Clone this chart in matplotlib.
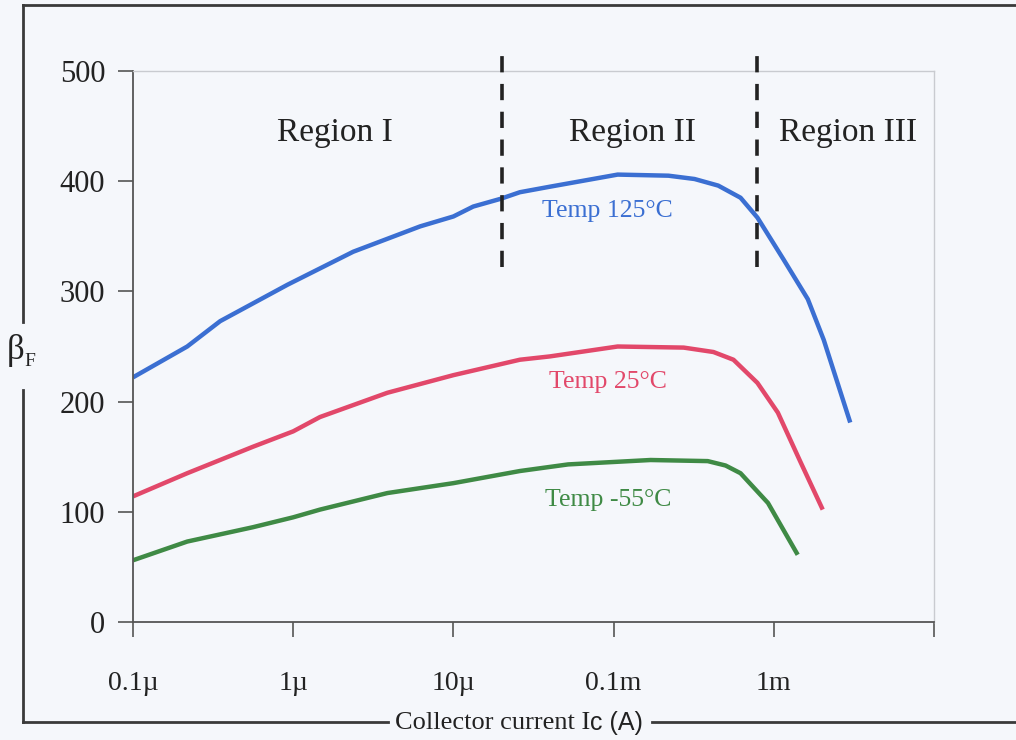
import numpy as np
import matplotlib
matplotlib.use("Agg")
import matplotlib.pyplot as plt
from matplotlib.lines import Line2D

# collector current (A) and forward current gain for each temperature
ic_125 = [1.0e-7, 2.18e-7, 3.5e-7, 9.2e-7, 2.37e-6, 6.2e-6, 1.0e-5, 1.33e-5, 1.97e-5,
          2.6e-5, 4.0e-5, 1.06e-4, 2.2e-4, 3.2e-4, 4.5e-4, 6.2e-4, 7.9e-4, 1.15e-3,
          1.63e-3, 2.05e-3, 3.0e-3]
beta_125 = [222, 250, 273, 306, 336, 359, 368, 377, 384,
            390, 395, 406, 405, 402, 396, 385, 367, 329,
            293, 256, 181]

ic_25 = [1.0e-7, 2.18e-7, 5.6e-7, 1.0e-6, 1.47e-6, 3.87e-6, 1.0e-5, 2.6e-5, 4.0e-5,
         1.06e-4, 2.74e-4, 4.2e-4, 5.6e-4, 7.9e-4, 1.06e-3, 1.47e-3, 2.02e-3]
beta_25 = [114, 135, 159, 173, 186, 208, 224, 238, 241,
           250, 249, 245, 238, 217, 190, 145, 102]

ic_m55 = [1.0e-7, 2.18e-7, 5.6e-7, 1.0e-6, 1.47e-6, 3.87e-6, 1.0e-5, 2.6e-5, 5.2e-5,
          1.7e-4, 3.87e-4, 5.0e-4, 6.2e-4, 9.2e-4, 1.41e-3]
beta_m55 = [56, 73, 86, 95, 102, 117, 126, 137, 143,
            147, 146, 142, 135, 108, 61]

x_ticks = [1e-7, 1e-6, 1e-5, 1e-4, 1e-3, 1e-2]
x_ticklabels = ["0.1\u00b5", "1\u00b5", "10\u00b5", "0.1m", "1m", ""]
y_ticks = [0, 100, 200, 300, 400, 500]

# region boundaries (A) and how far up the dashed markers reach
region_edges = [2.02e-5, 7.8e-4]
edge_span = [322, 520]

bg = "#f5f7fb"
c_blue = "#3b6fd2"
c_red = "#e2486a"
c_green = "#3f8a45"
serif = "Liberation Serif"

plt.rcParams["font.family"] = serif

fig = plt.figure(figsize=(10.16, 7.40), dpi=100, facecolor=bg)
ax = fig.add_axes([133 / 1016, 118 / 740, 801 / 1016, 551 / 740], facecolor=bg)

ax.plot(ic_125, beta_125, color=c_blue, lw=3.2, solid_capstyle="butt",
        solid_joinstyle="round")
ax.plot(ic_25, beta_25, color=c_red, lw=3.2, solid_capstyle="butt",
        solid_joinstyle="round")
ax.plot(ic_m55, beta_m55, color=c_green, lw=3.2, solid_capstyle="butt",
        solid_joinstyle="round")

for xe in region_edges:
    ax.plot([xe, xe], edge_span, color="#222222", lw=2.6, ls=(0, (4.5, 3.2)),
            clip_on=False, zorder=5)

ax.set_xscale("log")
ax.set_xlim(1e-7, 1e-2)
ax.set_ylim(0, 500)
ax.set_xticks(x_ticks)
ax.set_xticklabels(x_ticklabels)
ax.minorticks_off()
ax.set_yticks(y_ticks)

for side in ["left", "bottom"]:
    ax.spines[side].set_color("#555555")
    ax.spines[side].set_linewidth(1.3)
for side in ["top", "right"]:
    ax.spines[side].set_color("#c9cbd0")
    ax.spines[side].set_linewidth(1.0)

ax.tick_params(axis="x", direction="out", length=11, width=1.2, color="#555555",
               labelsize=20, pad=24, labelcolor="#222222")
ax.tick_params(axis="y", direction="out", length=11, width=1.2, color="#555555",
               labelsize=22, pad=9, labelcolor="#222222")

ax.text(1.83e-6, 444, "Region I", fontsize=24, ha="center", va="center", color="#222222")
ax.text(1.31e-4, 444, "Region II", fontsize=24, ha="center", va="center", color="#222222")
ax.text(2.9e-3, 444, "Region III", fontsize=24, ha="center", va="center", color="#222222")

ax.text(9.2e-5, 373, "Temp 125\u00b0C", fontsize=18.5, ha="center", va="center", color=c_blue)
ax.text(9.2e-5, 218, "Temp 25\u00b0C", fontsize=18.5, ha="center", va="center", color=c_red)
ax.text(9.2e-5, 111, "Temp -55\u00b0C", fontsize=18.5, ha="center", va="center", color=c_green)

# outer frame with gaps for the axis titles
W, H = 1016.0, 740.0
frame = dict(color="#3a3a3a", lw=2.0, transform=fig.transFigure)
segments = [
    ((23, 23), (5, 322)),
    ((23, 23), (390, 722)),
    ((23, 1016), (5, 5)),
    ((23, 388), (722, 722)),
    ((652, 1016), (722, 722)),
]
for xs, ys in segments:
    fig.add_artist(Line2D([x / W for x in xs], [1 - y / H for y in ys], **frame))

t1 = fig.text(395 / W, 1 - 723 / H, "Collector current I", fontsize=19,
              ha="left", va="center", color="#222222")
ax.annotate("c (A)", xy=(1.0, 0.5), xycoords=t1, ha="left", va="center",
            fontsize=18, family="Liberation Sans", color="#222222")

fig.text(16 / W, 1 - 350 / H, "\u03b2", fontsize=25, ha="center", va="center",
         color="#222222")
fig.text(30 / W, 1 - 362 / H, "F", fontsize=14, ha="center", va="center",
         color="#222222")

fig.savefig("out.png", dpi=100, facecolor=bg)
